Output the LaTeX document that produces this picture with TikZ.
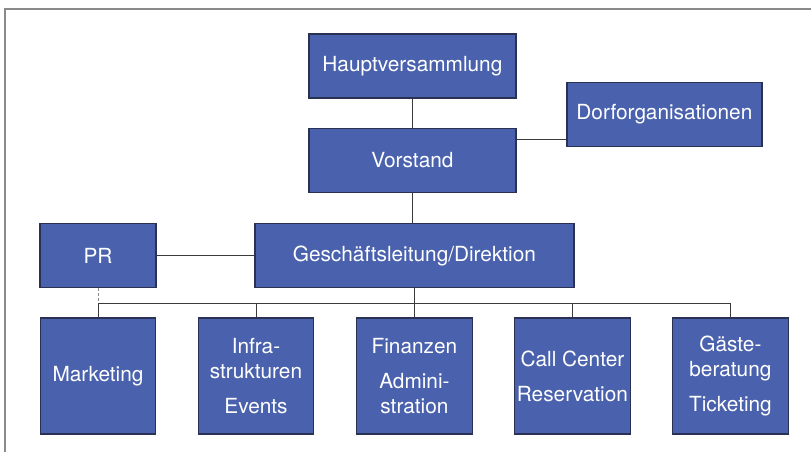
\documentclass[tikz,border=0pt]{standalone}
\usepackage{fontspec}
\setmainfont{TeX Gyre Heros}
\definecolor{orgblue}{HTML}{4A62AD}
\definecolor{orgedge}{HTML}{2B3152}
\definecolor{orgline}{HTML}{3A3A3A}
\definecolor{framegray}{HTML}{8A8A8A}
\usepackage{tikz}
\usetikzlibrary{positioning, calc}

\begin{document}
\begin{tikzpicture}[
    orgbox/.style={draw=orgedge, line width=0.9pt, fill=orgblue, text=white,
      font=\fontsize{14.8}{17.8}\selectfont, align=center, inner sep=0pt,
      minimum height=1.6cm},
    unitbox/.style={orgbox, minimum width=2.89cm, minimum height=2.9cm},
    orgline/.style={draw=orgline, line width=0.7pt}
  ]
      \useasboundingbox (0,0) rectangle (20.275,11.3);

      % Frame
      \draw[framegray, line width=0.8pt] (0.125,0) -- (0.125,11.075) -- (20.275,11.075);

      % Top levels
      \node[orgbox, minimum width=5.175cm] (hv) at (10.31, 9.65) {Hauptversammlung};
      \node[orgbox, minimum width=5.175cm] (vor) at (10.31, 7.29) {Vorstand};
      \node[orgbox, minimum width=4.875cm] (dorf) at (16.61, 8.44) {Dorforganisationen};
      \node[orgbox, minimum width=2.9cm] (pr) at (2.45, 4.91) {PR};
      \node[orgbox, minimum width=7.975cm] (gl) at (10.36, 4.91) {Geschäftsleitung/Direktion};

      % Departments
      \node[unitbox] (mkt) at (2.45, 1.9) {Marketing};
      \node[unitbox] (inf) at (6.40, 1.9) {Infra-\\strukturen\\[7pt]Events};
      \node[unitbox] (fin) at (10.36, 1.9) {Finanzen\\[7pt]Admini-\\stration};
      \node[unitbox] (call) at (14.31, 1.9) {Call Center\\[7pt]Reservation};
      \node[unitbox] (gast) at (18.26, 1.9) {Gäste-\\beratung\\[7pt]Ticketing};

      % Connectors
      \draw[orgline] (hv.south) -- (vor.north);
      \draw[orgline] (vor.south) -- (vor.south |- gl.north);
      \draw[orgline] ([yshift=0.51cm]vor.east) -- ([yshift=0.51cm]vor.east -| dorf.west);
      \draw[orgline] (pr.east) -- (gl.west);

      % Bus
      \coordinate (busl) at (2.45, 3.725);
      \coordinate (busr) at (18.26, 3.725);
      \draw[orgline] (busl) -- (busr);
      \draw[orgline] (gl.south) -- (gl.south |- busl);
      \foreach \n in {mkt, inf, fin, call, gast}
        \draw[orgline] (\n.north) -- (\n.north |- busl);
      \draw[framegray, line width=0.7pt, dash pattern=on 2pt off 1.5pt] (pr.south) -- (busl);
    \end{tikzpicture}
\end{document}
